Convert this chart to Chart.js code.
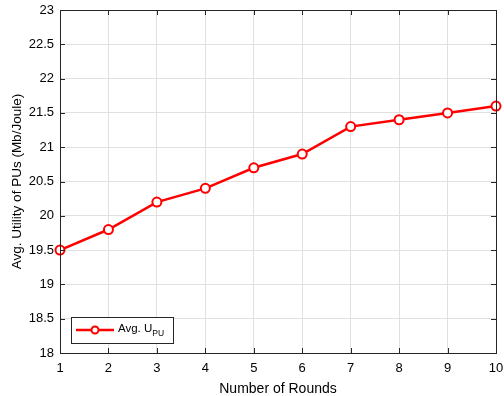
<!DOCTYPE html>
<html>
<head>
<meta charset="utf-8">
<script src="https://cdn.jsdelivr.net/npm/chart.js@4.4.1/dist/chart.umd.min.js"></script>
<style>
  html, body { margin: 0; padding: 0; background: #fff; }
  #wrap { width: 504px; height: 396px; }
</style>
</head>
<body>
<div id="wrap"><canvas id="chart" width="504" height="396"></canvas></div>
<script>
const rounds = [1, 2, 3, 4, 5, 6, 7, 8, 9, 10];
const utility = [19.5, 19.8, 20.2, 20.4, 20.7, 20.9, 21.3, 21.4, 21.5, 21.6];
const yTicks = [18, 18.5, 19, 19.5, 20, 20.5, 21, 21.5, 22, 22.5, 23];

const FONT = 'Liberation Sans, Arial, Helvetica, sans-serif';

// box, inner ticks and legend in matlab style
const matlabBox = {
    id: 'matlabBox',
    afterDraw(chart) {
        const ctx = chart.ctx;
        const a = chart.chartArea;
        const xs = chart.scales.x, ys = chart.scales.y;
        ctx.save();
        ctx.strokeStyle = '#262626';
        ctx.lineWidth = 1;
        ctx.beginPath();
        rounds.forEach(r => {
            const px = Math.round(xs.getPixelForValue(r)) + 0.5;
            ctx.moveTo(px, a.bottom); ctx.lineTo(px, a.bottom - 5);
            ctx.moveTo(px, a.top); ctx.lineTo(px, a.top + 5);
        });
        yTicks.forEach(v => {
            const py = Math.round(ys.getPixelForValue(v)) + 0.5;
            ctx.moveTo(a.left, py); ctx.lineTo(a.left + 5, py);
            ctx.moveTo(a.right, py); ctx.lineTo(a.right - 5, py);
        });
        ctx.stroke();
        ctx.strokeRect(Math.round(a.left) + 0.5, Math.round(a.top) + 0.5,
            Math.round(a.right - a.left), Math.round(a.bottom - a.top));

        // legend
        const lx = 71, ly = 317, lw = 102, lh = 26;
        ctx.fillStyle = '#fff';
        ctx.fillRect(lx, ly, lw, lh);
        ctx.strokeStyle = '#262626';
        ctx.strokeRect(lx + 0.5, ly + 0.5, lw, lh);
        const cy = ly + lh / 2;
        ctx.strokeStyle = '#ff0000';
        ctx.lineWidth = 2.5;
        ctx.beginPath();
        ctx.moveTo(76, cy); ctx.lineTo(114, cy);
        ctx.stroke();
        ctx.lineWidth = 2;
        ctx.beginPath();
        ctx.arc(95, cy, 3.5, 0, Math.PI * 2);
        ctx.fillStyle = '#fff';
        ctx.fill();
        ctx.stroke();
        ctx.fillStyle = '#000';
        ctx.textBaseline = 'middle';
        ctx.font = '11.5px ' + FONT;
        ctx.fillText('Avg. U', 118, cy - 1);
        const w = ctx.measureText('Avg. U').width;
        ctx.font = '8.5px ' + FONT;
        ctx.fillText('PU', 118 + w, cy + 4);
        ctx.restore();
    }
};

new Chart(document.getElementById('chart'), {
    type: 'line',
    data: {
        datasets: [{
            label: 'Avg. U_PU',
            data: rounds.map((r, i) => ({ x: r, y: utility[i] })),
            borderColor: '#ff0000',
            backgroundColor: '#ff0000',
            borderWidth: 2.5,
            pointRadius: 4.5,
            pointBorderWidth: 2,
            pointBackgroundColor: '#ffffff',
            pointBorderColor: '#ff0000',
            tension: 0,
            clip: false
        }]
    },
    options: {
        responsive: false,
        animation: false,
        devicePixelRatio: 1,
        layout: { padding: { left: 0, right: 8, top: 10, bottom: 0 } },
        plugins: {
            legend: { display: false },
            tooltip: { enabled: false }
        },
        scales: {
            x: {
                type: 'linear',
                min: 1,
                max: 10,
                afterFit: s => { s.height = 43; s.paddingLeft = 0; s.paddingRight = 0; },
                afterBuildTicks: s => { s.ticks = rounds.map(v => ({ value: v })); },
                ticks: { color: '#000', font: { family: FONT, size: 13 }, padding: 8, maxRotation: 0 },
                grid: { color: '#e0e0e0', drawTicks: false },
                border: { display: false },
                title: {
                    display: true,
                    text: 'Number of Rounds',
                    color: '#000',
                    font: { family: FONT, size: 14 },
                    padding: { top: 0, bottom: -2 }
                }
            },
            y: {
                min: 18,
                max: 23,
                afterFit: s => { s.width = 60; s.paddingTop = 0; s.paddingBottom = 0; },
                afterBuildTicks: s => { s.ticks = yTicks.map(v => ({ value: v })); },
                ticks: {
                    color: '#000',
                    font: { family: FONT, size: 13 },
                    padding: 6,
                    callback: v => String(v)
                },
                grid: { color: '#e0e0e0', drawTicks: false },
                border: { display: false },
                title: {
                    display: true,
                    text: 'Avg. Utility of PUs (Mb/Joule)',
                    color: '#000',
                    font: { family: FONT, size: 13.5 },
                    padding: { top: 9, bottom: 0 }
                }
            }
        }
    },
    plugins: [matlabBox]
});
</script>
</body>
</html>
